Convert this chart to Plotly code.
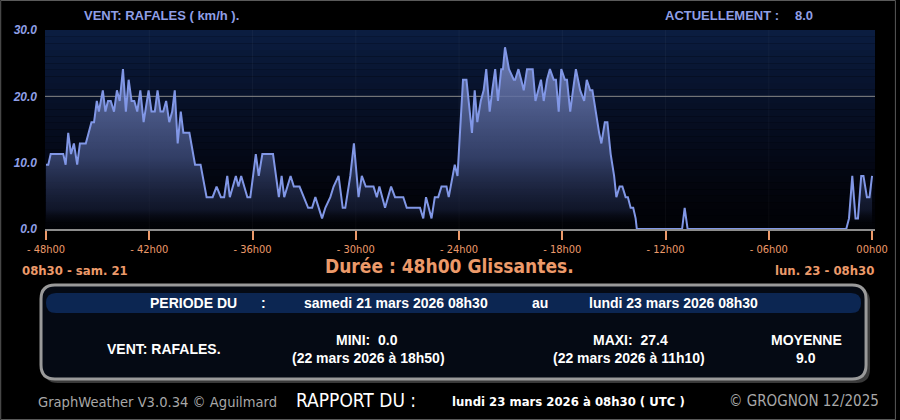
import plotly.graph_objects as go

# gust readings (km/h), hours relative to the report time
hours = [-48.0, -47.87, -47.73, -47.0, -46.86, -46.71, -46.55, -46.38, -46.19, -46.03,
         -45.69, -45.36, -45.21, -45.05, -44.93, -44.70, -44.55, -44.40, -44.24, -44.05,
         -43.88, -43.72, -43.53, -43.36, -43.20, -43.03, -42.87, -42.70, -42.52, -42.33,
         -42.04, -41.87, -41.68, -41.52, -41.35, -41.19, -41.02, -40.84, -40.67, -40.52,
         -40.35, -40.17, -40.02, -39.67, -39.34, -39.02, -38.67, -38.32, -38.09, -37.84,
         -37.65, -37.47, -37.32, -37.14, -36.97, -36.82, -36.66, -36.30, -36.13, -35.97,
         -35.81, -35.64, -35.43, -34.81, -34.47, -34.31, -34.16, -33.79, -33.60, -33.27,
         -33.02, -32.77, -32.54, -32.35, -31.96, -31.77, -31.48, -31.29, -31.00, -30.76,
         -30.61, -30.32, -30.11, -29.84, -29.65, -29.42, -28.97, -28.78, -28.63, -28.30,
         -27.95, -27.72, -27.24, -27.04, -26.27, -26.08, -25.92, -25.60, -25.41, -25.21,
         -25.02, -24.73, -24.60, -24.40, -24.25, -24.09, -23.90, -23.77, -23.57, -23.38,
         -23.25, -23.09, -22.94, -22.74, -22.57, -22.42, -22.22, -22.07, -21.90, -21.74,
         -21.55, -21.45, -21.33, -21.10, -20.82, -20.74, -20.55, -20.39, -20.24, -20.05,
         -19.72, -19.56, -19.24, -19.08, -18.89, -18.72, -18.50, -18.37, -18.21, -18.06,
         -17.85, -17.73, -17.54, -17.38, -17.21, -16.96, -16.73, -16.58, -16.38, -16.25,
         -16.06, -15.86, -15.73, -15.53, -15.38, -15.19, -14.99, -14.86, -14.67, -14.51,
         -14.32, -14.19, -14.03, -13.88, -13.74, -13.67, -11.04, -10.89, -10.72, -1.50,
         -1.34, -1.15, -0.96, -0.82, -0.63, -0.50, -0.30, -0.15, 0.0]
gusts = [9.7, 9.7, 11.3, 11.3, 9.7, 14.5, 11.3, 12.9, 9.7, 12.9,
         12.9, 16.1, 16.1, 19.3, 17.7, 20.9, 17.7, 19.3, 19.3, 17.7,
         20.9, 19.3, 24.1, 17.7, 22.5, 19.3, 19.3, 17.7, 20.9, 16.1,
         20.9, 17.7, 17.7, 20.9, 17.7, 17.7, 19.3, 16.1, 17.7, 20.9,
         12.9, 17.7, 14.5, 14.5, 9.7, 9.7, 4.8, 4.8, 6.4, 4.8,
         4.8, 8.0, 4.8, 6.4, 8.0, 6.4, 8.0, 4.8, 4.8, 8.0,
         11.3, 8.0, 11.3, 11.3, 4.8, 8.0, 4.8, 8.0, 6.4, 6.4,
         4.8, 3.2, 3.2, 4.8, 1.6, 3.2, 4.8, 6.4, 8.0, 3.2,
         3.2, 8.0, 12.9, 4.8, 8.0, 6.4, 6.4, 4.8, 6.4, 3.2,
         6.4, 4.8, 4.8, 3.2, 3.2, 1.6, 4.8, 1.6, 4.8, 4.8,
         6.4, 6.4, 4.8, 8.0, 9.7, 8.0, 16.1, 22.5, 22.5, 17.7,
         14.5, 20.9, 16.1, 19.3, 20.9, 24.1, 17.7, 20.9, 24.1, 19.3,
         24.1, 24.1, 27.4, 24.1, 22.5, 22.5, 24.1, 22.5, 20.9, 24.1,
         24.1, 19.3, 22.5, 19.3, 22.5, 24.1, 22.5, 22.5, 17.7, 24.1,
         22.5, 22.5, 17.7, 20.9, 24.1, 20.9, 19.3, 22.5, 20.9, 20.9,
         17.7, 14.5, 12.9, 16.1, 16.1, 11.3, 8.0, 4.8, 6.4, 6.4,
         4.8, 4.8, 3.2, 3.2, 1.6, 0.0, 0.0, 3.2, 0.0, 0.0,
         1.6, 8.0, 1.6, 1.6, 8.0, 8.0, 4.8, 4.8, 8.0]

tick_hours = [-48, -42, -36, -30, -24, -18, -12, -6, 0]
tick_labels = ['- 48h00', '- 42h00', '- 36h00', '- 30h00', '- 24h00',
               '- 18h00', '- 12h00', '- 06h00', '00h00']
y_ticks = [0, 10, 20, 30]
y_labels = ['0.0', '10.0', '20.0', '30.0']

ORANGE = '#ec9a6a'
BLUE_TXT = '#8f9fe6'
NARROW = 'Liberation Sans Narrow, Arial Narrow, DejaVu Sans Condensed, sans-serif'
ARIAL = 'Liberation Sans, Arial, sans-serif'

# plot area in pixels
L, T, W, H = 45, 30, 834, 199


def xp(px):
    return (px - L) / W


def yp(py):
    return (T + H - py) / H


def rounded(x0, y0, x1, y1, r):
    """SVG path for a rounded rectangle given in pixel coords, output in paper coords."""
    pts = (f"M{xp(x0 + r)},{yp(y0)} L{xp(x1 - r)},{yp(y0)} Q{xp(x1)},{yp(y0)} {xp(x1)},{yp(y0 + r)} "
           f"L{xp(x1)},{yp(y1 - r)} Q{xp(x1)},{yp(y1)} {xp(x1 - r)},{yp(y1)} "
           f"L{xp(x0 + r)},{yp(y1)} Q{xp(x0)},{yp(y1)} {xp(x0)},{yp(y1 - r)} "
           f"L{xp(x0)},{yp(y0 + r)} Q{xp(x0)},{yp(y0)} {xp(x0 + r)},{yp(y0)} Z")
    return pts


fig = go.Figure()
fig.add_trace(go.Scatter(
    x=hours, y=gusts, mode='lines',
    line=dict(color='#8197e6', width=2),
    fill='tozeroy',
    fillgradient=dict(type='vertical', start=0, stop=24,
                      colorscale=[[0, 'rgba(0,0,0,0)'], [0.12, 'rgba(30,40,72,0.5)'],
                                  [0.45, 'rgba(65,80,128,0.75)'], [1, 'rgba(110,125,180,0.88)']]),
    hoverinfo='x+y', showlegend=False,
))

shapes = []
# gradient background of the plot area
n = 30
for i in range(n):
    f = i / (n - 1)
    r, g, b = int(1 + 10 * f), int(2 + 27 * f ** 1.3), int(6 + 58 * f ** 1.2)
    shapes.append(dict(type='rect', xref='x domain', yref='y domain', x0=0, x1=1,
                       y0=i / n, y1=(i + 1) / n, fillcolor=f'rgb({r},{g},{b})',
                       line=dict(width=0), layer='below'))
# faint columns at each 6 h
for h in tick_hours[1:-1]:
    shapes.append(dict(type='line', xref='x', yref='y domain', x0=h, x1=h, y0=0, y1=1,
                       line=dict(color='rgba(255,255,255,0.04)', width=1), layer='below'))
shapes.append(dict(type='line', xref='x domain', yref='y', x0=0, x1=1, y0=20, y1=20,
                   line=dict(color='#8a8a8a', width=1), layer='below'))
# outer frame
shapes.append(dict(type='rect', xref='paper', yref='paper', x0=xp(0.5), x1=xp(899.5),
                   y0=yp(0.5), y1=yp(419.5), line=dict(color='#5a5a5a', width=1)))
# bottom panel: shadow, box, header band
shapes.append(dict(type='path', xref='paper', yref='paper', path=rounded(44, 288, 874, 383, 14),
                   fillcolor='#3a3a3a', line=dict(width=0)))
shapes.append(dict(type='path', xref='paper', yref='paper', path=rounded(41, 285, 870, 379, 14),
                   fillcolor='#050a14', line=dict(color='#9a9a9a', width=3)))
shapes.append(dict(type='path', xref='paper', yref='paper', path=rounded(46, 293, 865, 313, 10),
                   fillcolor='#0c2652', line=dict(width=0)))

fig.update_layout(shapes=shapes)


def ann(text, px, py, size=12, color='white', family=ARIAL, anchor='center', weight='bold', style='normal'):
    fig.add_annotation(text=text, x=xp(px), y=yp(py), xref='paper', yref='paper',
                       xanchor=anchor, yanchor='middle', showarrow=False,
                       font=dict(size=size, color=color, family=family, weight=weight, style=style))


ann('VENT: RAFALES ( km/h ).', 82, 15, 13, BLUE_TXT, anchor='left')
ann('ACTUELLEMENT :', 666, 15, 13, BLUE_TXT, anchor='left')
ann('8.0', 797, 15, 13, BLUE_TXT, anchor='left')

ann('08h30 - sam. 21', 20, 270, 13, ORANGE, NARROW, anchor='left')
ann('Durée : 48h00 Glissantes.', 451, 266, 19, ORANGE, NARROW)
ann('lun. 23 - 08h30', 880, 270, 13, ORANGE, NARROW, anchor='right')

ann('PERIODE DU', 148, 303, 14, anchor='left')
ann(':', 260, 303, 14, anchor='left')
ann('samedi 21 mars 2026 08h30', 303, 303, 14, anchor='left')
ann('au', 532, 303, 14, anchor='left')
ann('lundi 23 mars 2026 08h30', 590, 303, 14, anchor='left')

ann('VENT: RAFALES.', 165, 349, 14)
ann('MINI:  0.0', 369, 340, 14)
ann('(22 mars 2026 à 18h50)', 370, 358, 14)
ann('MAXI:  27.4', 633, 340, 14)
ann('(22 mars 2026 à 11h10)', 632, 358, 14)
ann('MOYENNE', 810, 340, 14)
ann('9.0', 810, 358, 14)

ann('GraphWeather V3.0.34 © Aguilmard', 36, 401, 14.6, '#a8a8a8', NARROW, anchor='left', weight='normal')
ann('RAPPORT DU :', 295, 400, 19, 'white', NARROW, anchor='left', weight='normal')
ann('lundi 23 mars 2026 à 08h30 ( UTC )', 452, 401, 13, 'white', NARROW, anchor='left')
ann('© GROGNON 12/2025', 885, 401, 15, '#a8a8a8', NARROW, anchor='right', weight='normal')

fig.update_layout(
    width=900, height=420,
    paper_bgcolor='#000000', plot_bgcolor='#000000',
    margin=dict(l=L, r=900 - L - W, t=T, b=420 - T - H),
    showlegend=False,
)
fig.update_xaxes(range=[-48.06, 0.17], tickvals=tick_hours, ticktext=tick_labels,
                 showgrid=False, zeroline=False, showline=True, linecolor='#8c8c8c', linewidth=2,
                 ticks='outside', tickcolor=ORANGE, ticklen=9, tickwidth=2,
                 tickfont=dict(family=NARROW, size=11, color=ORANGE))
fig.update_yaxes(range=[0, 30], tickvals=y_ticks, ticktext=y_labels,
                 showgrid=False, zeroline=False, showline=False, ticks='', ticklabelstandoff=7,
                 tickfont=dict(family=ARIAL, size=12, color=BLUE_TXT, style='italic', weight='bold'))

fig.write_html("out.html", config={'displayModeBar': False},
               post_script="document.body.style.margin='0';")
